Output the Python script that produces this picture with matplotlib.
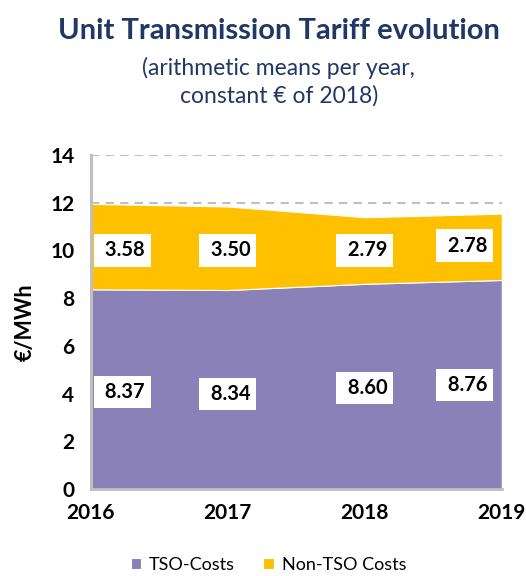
import matplotlib
matplotlib.use("Agg")
import matplotlib.pyplot as plt
import numpy as np

years = ["2016", "2017", "2018", "2019"]
tso_costs = [8.37, 8.34, 8.60, 8.76]
non_tso_costs = [3.58, 3.50, 2.79, 2.78]
yticks = [0, 2, 4, 6, 8, 10, 12, 14]

plt.rcParams['font.family'] = ['Lato', 'DejaVu Sans']

fig = plt.figure(figsize=(5.26, 5.76), dpi=100)
ax = fig.add_axes([0.173, 0.151, 0.781, 0.580])

x = np.arange(len(years))
purple = "#8B81B9"
gold = "#FFC000"

for yv in [12, 14]:
    ax.axhline(yv, color="#BFBFBF", lw=1.5, ls=(0, (4, 3)), zorder=0)

ax.stackplot(x, tso_costs, non_tso_costs, colors=[purple, gold],
             labels=["TSO-Costs", "Non-TSO Costs"], zorder=2,
             edgecolor="white", linewidth=0.8)

ax.set_xlim(x[0], x[-1])
ax.set_ylim(0, 14)
ax.set_yticks(yticks)
ax.set_xticks(x)
ax.set_xticklabels(years)
for lab in ax.get_xticklabels() + ax.get_yticklabels():
    lab.set_fontweight("bold")
    lab.set_fontsize(15)
ax.tick_params(axis="x", length=0, pad=10)
ax.tick_params(axis="y", length=0, pad=12)

for s in ["top", "right"]:
    ax.spines[s].set_visible(False)
ax.spines["left"].set_color("#BFBFBF")
ax.spines["left"].set_linewidth(2.2)
ax.spines["bottom"].set_color("#BFBFBF")
ax.spines["bottom"].set_linewidth(2)

ax.set_ylabel("€/MWh", fontsize=15.5, fontweight="bold", labelpad=10)

offs = [0.23, 0.0, 0.0, -0.27]
yoff_t = [4.07, 3.98, 4.23, 4.36]
yoff_n = [10.0, 10.0, 10.0, 10.2]
for i in range(len(years)):
    for yy, v in [(yoff_t[i], tso_costs[i]), (yoff_n[i], non_tso_costs[i])]:
        ax.text(x[i] + offs[i], yy, f" {v:.2f}", ha="center", va="center",
                fontsize=14.5, fontweight="bold", zorder=5,
                bbox=dict(facecolor="white", edgecolor="none", pad=4.5))

fig.text(0.53, 0.947, "Unit Transmission Tariff evolution", ha="center", va="center",
         fontsize=21, fontweight="bold", color="#1F3864")
fig.text(0.53, 0.858, "(arithmetic means per year,\nconstant € of 2018)", ha="center", va="center",
         fontsize=16.5, color="#1F3864", linespacing=1.35)

handles, labels = ax.get_legend_handles_labels()
fig.legend(handles, labels, loc="center", bbox_to_anchor=(0.51, 0.019), ncol=2,
           frameon=False, fontsize=13, handlelength=0.6, handleheight=0.6,
           columnspacing=1.6, handletextpad=0.4)

fig.savefig("out.png", dpi=100)
